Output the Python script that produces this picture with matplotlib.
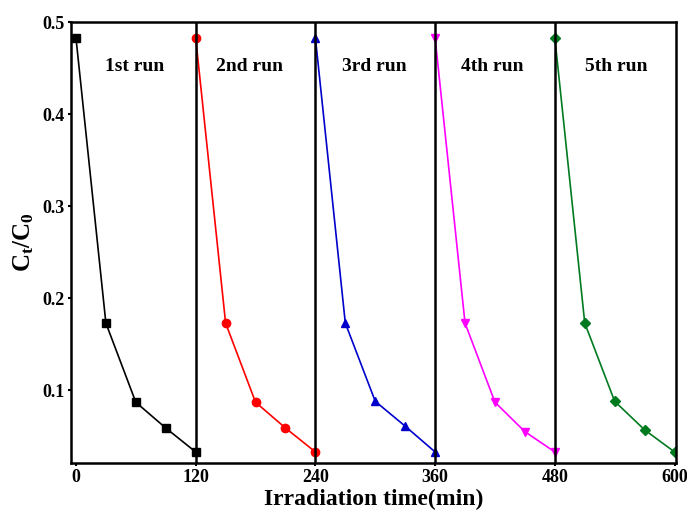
import matplotlib
matplotlib.use('Agg')
import matplotlib.pyplot as plt

plt.rcParams['font.family'] = ['Liberation Serif', 'DejaVu Serif']
plt.rcParams['font.weight'] = 'bold'
plt.rcParams['mathtext.fontset'] = 'custom'
plt.rcParams['mathtext.rm'] = 'Liberation Serif:bold'
plt.rcParams['mathtext.it'] = 'Liberation Serif:bold'
plt.rcParams['mathtext.bf'] = 'Liberation Serif:bold'

t = [0, 30, 60, 90, 120]
run1 = [0.483, 0.173, 0.087, 0.059, 0.033]
run2 = [0.483, 0.173, 0.087, 0.059, 0.033]
run3 = [0.483, 0.173, 0.088, 0.061, 0.033]
run4 = [0.483, 0.173, 0.087, 0.055, 0.033]
run5 = [0.483, 0.173, 0.088, 0.057, 0.033]
runs = [run1, run2, run3, run4, run5]
labels = ['1st run', '2nd run', '3rd run', '4th run', '5th run']
label_x = [59, 174, 299, 417, 542]
colors = ['black', '#ff0000', '#0000cc', '#ff00ff', '#007a1f']
markers = ['s', 'o', '^', 'v', 'D']
xticks = [0, 120, 240, 360, 480, 600]
yticks = [0.1, 0.2, 0.3, 0.4, 0.5]

fig = plt.figure(figsize=(6.87, 5.13), dpi=100)
ax = fig.add_axes([0.1033, 0.0975, 0.880, 0.8595])

for i, r in enumerate(runs):
    x = [v + 120*i for v in t]
    ax.plot(x, r, color=colors[i], marker=markers[i], markersize=6 if markers[i] != 'D' else 5,
            linewidth=1.2)
    ax.text(label_x[i], 0.452, labels[i], ha='center', va='center',
            fontsize=14, fontweight='bold')

for xv in [120, 240, 360, 480]:
    ax.axvline(xv, color='black', linewidth=1.8)

ax.set_xlim(-5, 601)
ax.set_ylim(0.021, 0.5)
ax.set_xticks(xticks)
ax.set_yticks(yticks)
ax.tick_params(labelsize=13, width=1.5, length=2.5, direction='out', pad=2)
for lab in ax.get_xticklabels() + ax.get_yticklabels():
    lab.set_fontweight('bold')
for s in ax.spines.values():
    s.set_linewidth(1.8)
ax.set_xlabel('Irradiation time(min)', fontsize=17, fontweight='bold', labelpad=2)
ax.set_ylabel(r'$\mathbf{C_t/C_0}$', fontsize=18, fontweight='bold', labelpad=5)

plt.savefig('out.png', dpi=100)
